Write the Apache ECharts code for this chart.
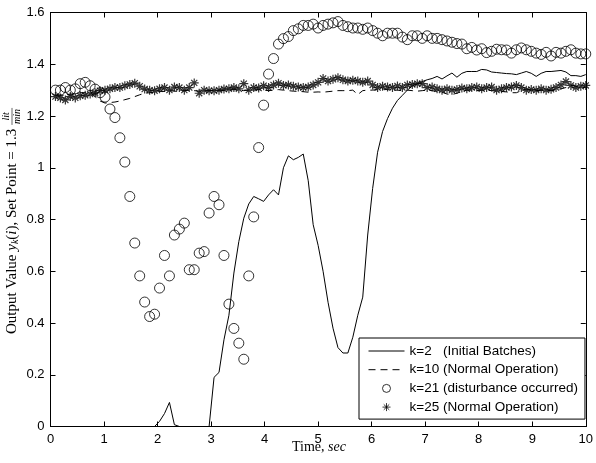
<!DOCTYPE html>
<html><head><meta charset="utf-8">
<script src="https://cdn.jsdelivr.net/npm/echarts@6/dist/echarts.min.js"></script>
<style>html,body{margin:0;padding:0;background:#fff}#c{width:596px;height:463px}</style>
</head><body><div id="c"></div>
<script>
// sampling step of the time grid (sec), 108 samples up to 10 s
const dt = 10 / 108;

const xTicks = [0, 1, 2, 3, 4, 5, 6, 7, 8, 9, 10];
const yTicks = [0, 0.2, 0.4, 0.6, 0.8, 1, 1.2, 1.4, 1.6];

const seriesNames = [
  'k=2   (Initial Batches)',
  'k=10 (Normal Operation)',
  'k=21 (disturbance occurred)',
  'k=25 (Normal Operation)'
];

const k2Initial = [
  0,0,0,0,0,0,0,0,0,0,
  0,0,0,0,0,0,0,0,0,0,
  0,0.02,0.05,0.093,0.007,0,0,0,0,0,
  0,0,0.19,0.209,0.335,0.43,0.593,0.715,0.805,0.86,
  0.889,0.88,0.87,0.895,0.915,0.895,1.0,1.046,1.031,1.04,
  1.053,0.95,0.78,0.70,0.60,0.48,0.38,0.305,0.284,0.284,
  0.345,0.43,0.50,0.74,0.92,1.06,1.14,1.19,1.23,1.26,
  1.28,1.30,1.316,1.325,1.333,1.34,1.345,1.353,1.343,1.355,
  1.366,1.35,1.365,1.372,1.372,1.372,1.38,1.378,1.37,1.368,
  1.366,1.364,1.363,1.36,1.366,1.372,1.365,1.353,1.365,1.372,
  1.372,1.374,1.376,1.37,1.356,1.356,1.353,1.36
];

const k10Normal = [
  1.28,1.28,1.28,1.285,1.285,1.29,1.29,1.29,1.275,1.258,
  1.25,1.252,1.254,1.258,1.263,1.268,1.275,1.282,1.288,1.29,
  1.292,1.295,1.295,1.298,1.296,1.295,1.298,1.30,1.298,1.296,
  1.295,1.298,1.30,1.30,1.298,1.30,1.302,1.30,1.298,1.30,
  1.30,1.302,1.30,1.298,1.30,1.302,1.30,1.298,1.296,1.295,
  1.294,1.292,1.292,1.293,1.292,1.294,1.296,1.298,1.298,1.298,
  1.30,1.283,1.298,1.30,1.30,1.302,1.305,1.302,1.30,1.30,
  1.298,1.30,1.298,1.296,1.298,1.30,1.298,1.295,1.292,1.285,
  1.283,1.288,1.295,1.30,1.30,1.298,1.30,1.30,1.298,1.296,
  1.295,1.293,1.29,1.29,1.298,1.305,1.30,1.298,1.30,1.30,
  1.298,1.30,1.305,1.31,1.318,1.315,1.31,1.31
];

const k21Disturbance = [
  1.30,1.30,1.31,1.30,1.305,1.325,1.33,1.317,1.304,1.29,
  1.273,1.227,1.194,1.116,1.022,0.889,0.709,0.582,0.481,0.425,
  0.434,0.535,0.661,0.582,0.740,0.763,0.786,0.606,0.606,0.670,
  0.676,0.825,0.889,0.857,0.661,0.473,0.379,0.322,0.260,0.582,
  0.810,1.078,1.242,1.362,1.422,1.478,1.499,1.507,1.53,1.537,
  1.55,1.55,1.555,1.54,1.55,1.555,1.56,1.565,1.55,1.545,
  1.54,1.54,1.535,1.54,1.53,1.52,1.51,1.52,1.52,1.52,
  1.505,1.495,1.51,1.51,1.50,1.51,1.50,1.50,1.495,1.49,
  1.485,1.48,1.478,1.46,1.465,1.455,1.46,1.445,1.45,1.458,
  1.456,1.455,1.443,1.456,1.463,1.456,1.45,1.443,1.438,1.446,
  1.432,1.446,1.443,1.45,1.456,1.443,1.44,1.44
];

const k25Normal = [
  1.275,1.27,1.262,1.275,1.27,1.278,1.28,1.285,1.29,1.298,
  1.30,1.305,1.31,1.31,1.317,1.322,1.327,1.315,1.304,1.30,
  1.298,1.305,1.31,1.30,1.312,1.31,1.30,1.31,1.328,1.288,
  1.30,1.298,1.298,1.30,1.304,1.305,1.31,1.305,1.325,1.30,
  1.31,1.308,1.317,1.31,1.32,1.327,1.318,1.32,1.315,1.312,
  1.31,1.312,1.32,1.33,1.345,1.335,1.342,1.348,1.34,1.335,
  1.338,1.335,1.33,1.335,1.32,1.31,1.315,1.312,1.31,1.316,
  1.31,1.32,1.322,1.325,1.325,1.31,1.312,1.305,1.30,1.305,
  1.30,1.302,1.308,1.305,1.31,1.312,1.305,1.31,1.312,1.30,
  1.305,1.31,1.312,1.318,1.31,1.30,1.302,1.30,1.305,1.30,
  1.303,1.31,1.32,1.333,1.318,1.31,1.315,1.318
];

const toPairs = arr => arr.map((v, i) => [+((i + 1) * dt).toFixed(4), v]);

const SANS = '"Liberation Sans", Arial, Helvetica, sans-serif';
const SERIF = '"Liberation Serif", "Times New Roman", serif';
const STAR = 'path://M5,0L5,10M0,5L10,5M1.6,1.6L8.4,8.4M1.6,8.4L8.4,1.6';

// --- y axis title pieces measured on a canvas
const mctx = document.createElement('canvas').getContext('2d');
function w(t, size, italic) {
  mctx.font = (italic ? 'italic ' : '') + size + 'px ' + SERIF;
  return mctx.measureText(t).width;
}
const FS = 15, FSS = 10;
const pieces = [
  { t: 'Output Value ', it: false, s: FS, dy: 0 },
  { t: 'y', it: true, s: FS, dy: 0 },
  { t: 'k', it: true, s: FSS, dy: 3.5 },
  { t: '(', it: false, s: FS, dy: 0 },
  { t: 'i', it: true, s: FS, dy: 0 },
  { t: '), Set Point = 1.3 ', it: false, s: FS, dy: 0 }
];
let total = 0;
pieces.forEach(p => { p.w = w(p.t, p.s, p.it); p.x = total; total += p.w; });
const fracW = Math.max(w('lit', FSS, true), w('min', FSS, true)) + 2;
const fracX = total;
total += fracW;
const startX = -total / 2;
const yTitleChildren = pieces.map(p => ({
  type: 'text', x: startX + p.x, y: p.dy,
  style: { text: p.t, fontFamily: SERIF, fontSize: p.s, fontStyle: p.it ? 'italic' : 'normal',
           fill: '#000', align: 'left', verticalAlign: 'middle' }
}));
yTitleChildren.push(
  { type: 'text', x: startX + fracX + fracW / 2, y: -5.5,
    style: { text: 'lit', fontFamily: SERIF, fontSize: FSS, fontStyle: 'italic', fill: '#000', align: 'center', verticalAlign: 'middle' } },
  { type: 'line', shape: { x1: startX + fracX, y1: 0, x2: startX + fracX + fracW, y2: 0 },
    style: { stroke: '#000', lineWidth: 0.6 } },
  { type: 'text', x: startX + fracX + fracW / 2, y: 5.5,
    style: { text: 'min', fontFamily: SERIF, fontSize: FSS, fontStyle: 'italic', fill: '#000', align: 'center', verticalAlign: 'middle' } }
);

const axisCommon = {
  type: 'value',
  axisLine: { show: true, onZero: false, lineStyle: { color: '#000', width: 1 } },
  axisTick: { show: true, inside: true, length: 5, lineStyle: { color: '#000', width: 1 } },
  splitLine: { show: false }
};

const chart = echarts.init(document.getElementById('c'), null, { renderer: 'canvas' });
chart.setOption({
  animation: false,
  backgroundColor: '#fff',
  grid: { left: 50.5, right: 8, top: 12.5, bottom: 36.5, containLabel: false },
  xAxis: [
    Object.assign({}, axisCommon, {
      position: 'bottom', min: xTicks[0], max: xTicks[xTicks.length - 1], interval: 1,
      axisLabel: { color: '#000', fontFamily: SANS, fontSize: 13, margin: 6 }
    }),
    Object.assign({}, axisCommon, {
      position: 'top', min: xTicks[0], max: xTicks[xTicks.length - 1], interval: 1,
      axisLabel: { show: false }
    })
  ],
  yAxis: [
    Object.assign({}, axisCommon, {
      position: 'left', min: yTicks[0], max: yTicks[yTicks.length - 1], interval: 0.2,
      axisLabel: { color: '#000', fontFamily: SANS, fontSize: 13, margin: 6,
                   formatter: v => String(+v.toFixed(1)) }
    }),
    Object.assign({}, axisCommon, {
      position: 'right', min: yTicks[0], max: yTicks[yTicks.length - 1], interval: 0.2,
      axisLabel: { show: false }
    })
  ],
  legend: {
    orient: 'vertical', left: 359, top: 338,
    padding: [6, 7, 5, 9], itemGap: 4.7, itemWidth: 36, itemHeight: 8,
    borderColor: '#000', borderWidth: 1, backgroundColor: '#fff',
    selectedMode: false,
    itemStyle: { borderWidth: 1 },
    lineStyle: { width: 1 },
    textStyle: { fontFamily: SANS, fontSize: 13.5, color: '#000' },
    data: [
      { name: seriesNames[0], itemStyle: { opacity: 0 } },
      { name: seriesNames[1], itemStyle: { opacity: 0 } },
      { name: seriesNames[2] },
      { name: seriesNames[3] }
    ]
  },
  graphic: [
    { type: 'group', x: 12, y: 221, rotation: Math.PI / 2, children: yTitleChildren },
    { type: 'text', x: 319, y: 447,
      style: { text: 'Time, {i|sec}', fontFamily: SERIF, fontSize: 14, fill: '#000',
               align: 'center', verticalAlign: 'middle',
               rich: { i: { fontFamily: SERIF, fontSize: 14, fontStyle: 'italic' } } } }
  ],
  series: [
    { name: seriesNames[0], type: 'line', data: toPairs(k2Initial), symbol: 'none',
      lineStyle: { color: '#000', width: 1 }, itemStyle: { color: '#000' }, z: 3 },
    { name: seriesNames[1], type: 'line', data: toPairs(k10Normal), symbol: 'none',
      lineStyle: { color: '#000', width: 1, type: [7, 5] }, itemStyle: { color: '#000' }, z: 3 },
    { name: seriesNames[2], type: 'scatter', data: toPairs(k21Disturbance), symbol: 'circle', symbolSize: 10,
      itemStyle: { color: 'transparent', borderColor: '#000', borderWidth: 1 }, z: 4 },
    { name: seriesNames[3], type: 'scatter', data: toPairs(k25Normal), symbol: STAR, symbolSize: 9,
      itemStyle: { color: 'transparent', borderColor: '#000', borderWidth: 1.2 }, z: 5 }
  ]
});
</script>
</body></html>
